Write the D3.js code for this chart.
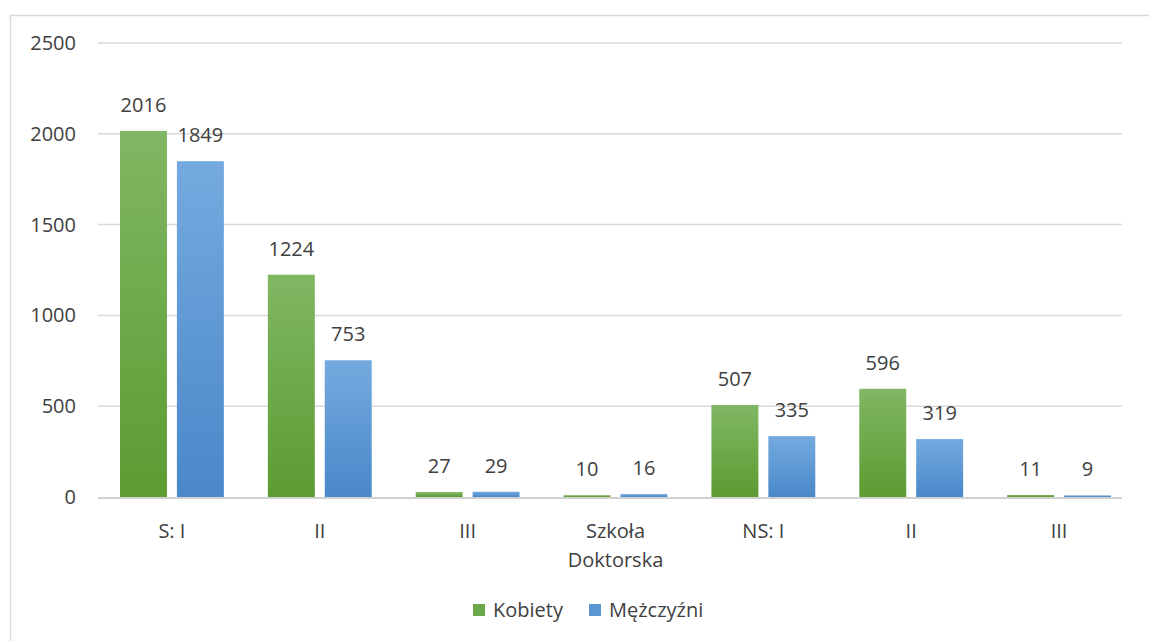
<!DOCTYPE html>
<html>
<head>
<meta charset="utf-8">
<script src="https://cdn.jsdelivr.net/npm/d3@7"></script>
<style>
  body { margin: 0; background: #fff; }
  svg text { font-family: "Open Sans", "Liberation Sans", sans-serif; fill: #404040; }
</style>
</head>
<body>
<svg id="chart"></svg>
<script>
var categories = [["S: I"], ["II"], ["III"], ["Szkoła", "Doktorska"], ["NS: I"], ["II"], ["III"]];
var seriesNames = ["Kobiety", "Mężczyźni"];
var kobiety = [2016, 1224, 27, 10, 507, 596, 11];
var mezczyzni = [1849, 753, 29, 16, 335, 319, 9];
var yTicks = [0, 500, 1000, 1500, 2000, 2500];

var width = 1149, height = 641;
var plotLeft = 98, plotRight = 1133, gridRight = 1122, plotTop = 43, plotBottom = 497;
var fontSize = "20px";

var svg = d3.select("#chart").attr("width", width).attr("height", height);

// gradients like the office style bars
var defs = svg.append("defs");
function grad(id, c1, c2) {
  var g = defs.append("linearGradient").attr("id", id)
    .attr("x1", 0).attr("y1", 0).attr("x2", 0).attr("y2", 1);
  g.append("stop").attr("offset", "0%").attr("stop-color", c1);
  g.append("stop").attr("offset", "100%").attr("stop-color", c2);
}
grad("gGreen", "#80b763", "#5c9c32");
grad("gBlue", "#74aadf", "#4a88c9");
var fills = ["url(#gGreen)", "url(#gBlue)"];
var legendFills = ["#6aa84a", "#5b96d3"];

// chart border
svg.append("rect")
  .attr("x", 10.5).attr("y", 15.5)
  .attr("width", 1200).attr("height", 700)
  .attr("fill", "none").attr("stroke", "#d9d9d9").attr("stroke-width", 1.5);

var x0 = d3.scaleBand().domain(d3.range(categories.length))
  .range([plotLeft, plotRight]).paddingInner(0).paddingOuter(0);
var x1 = d3.scaleBand().domain([0, 1])
  .range([22, x0.bandwidth() - 22]).paddingInner(0.175);
var y = d3.scaleLinear().domain([0, 2500]).range([plotBottom, plotTop]);

// gridlines
svg.append("g").selectAll("line").data(yTicks.slice(1)).enter().append("line")
  .attr("x1", plotLeft).attr("x2", gridRight)
  .attr("y1", function(d) { return y(d); })
  .attr("y2", function(d) { return y(d); })
  .attr("stroke", "#d9d9d9").attr("stroke-width", 1.5);

// axis baseline (under the bars so the tiny ones keep their colour)
svg.append("line")
  .attr("x1", plotLeft).attr("x2", gridRight)
  .attr("y1", y(0) + 1).attr("y2", y(0) + 1)
  .attr("stroke", "#d0d0d0").attr("stroke-width", 2);

// y axis labels
var yAxis = d3.axisLeft(y).tickValues(yTicks).tickSize(0).tickPadding(0).tickFormat(d3.format("d"));
var yg = svg.append("g").attr("transform", "translate(" + 76 + ",0)").call(yAxis);
yg.select(".domain").remove();
yg.attr("font-family", null).attr("font-size", null);
yg.selectAll("text").attr("font-size", fontSize).attr("fill", null);

var series = [kobiety, mezczyzni];
var groups = svg.append("g").selectAll("g").data(categories).enter().append("g")
  .attr("transform", function(d, i) { return "translate(" + x0(i) + ",0)"; });

groups.each(function(cat, i) {
  var g = d3.select(this);
  series.forEach(function(s, k) {
    g.append("rect")
      .attr("x", x1(k))
      .attr("y", y(s[i]))
      .attr("width", x1.bandwidth())
      .attr("height", y(0) - y(s[i]))
      .attr("fill", fills[k]);
    g.append("text")
      .attr("x", x1(k) + x1.bandwidth() / 2)
      .attr("y", y(s[i]) - 19)
      .attr("text-anchor", "middle")
      .attr("font-size", fontSize)
      .text(s[i]);
  });
  var t = g.append("text")
    .attr("x", x0.bandwidth() / 2)
    .attr("y", 538)
    .attr("text-anchor", "middle")
    .attr("font-size", fontSize);
  cat.forEach(function(line, j) {
    t.append("tspan").attr("x", x0.bandwidth() / 2).attr("dy", j === 0 ? 0 : 29).text(line);
  });
});

// legend
var legendX = [473, 589];
var legend = svg.append("g").selectAll("g").data(seriesNames).enter().append("g")
  .attr("transform", function(d, i) { return "translate(" + legendX[i] + ",604)"; });
legend.append("rect").attr("width", 12).attr("height", 12)
  .attr("fill", function(d, i) { return legendFills[i]; });
legend.append("text").attr("x", 20).attr("y", 13)
  .attr("font-size", fontSize).text(function(d) { return d; });
</script>
</body>
</html>
